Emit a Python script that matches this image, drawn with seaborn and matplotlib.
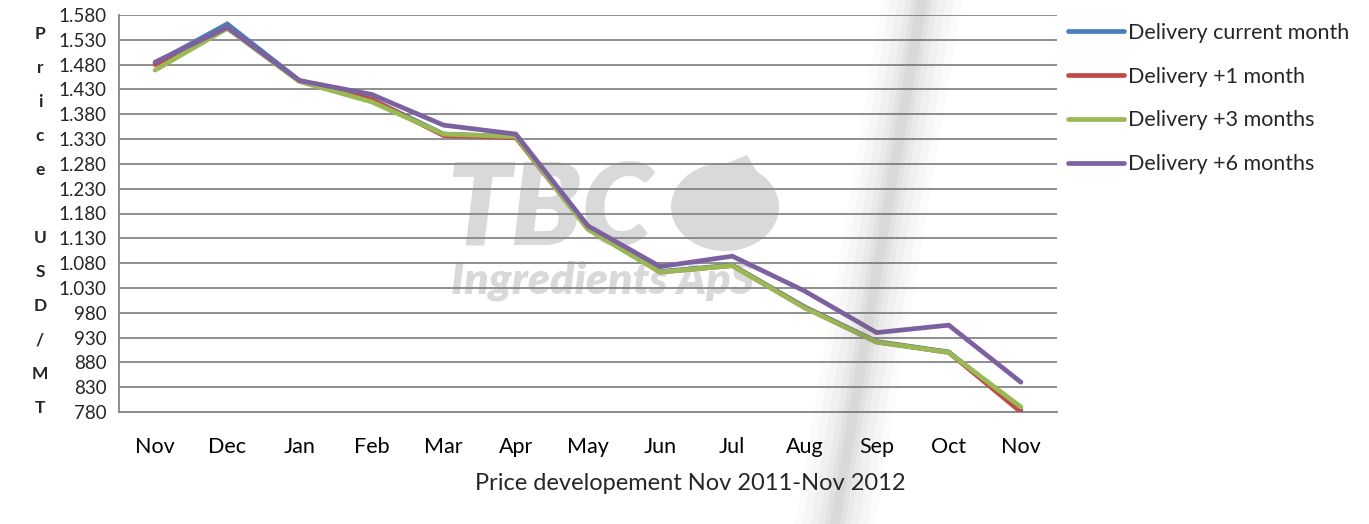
import matplotlib
matplotlib.use("Agg")
import matplotlib.pyplot as plt
import matplotlib.patches as mpatches
from matplotlib.ticker import FixedLocator, FuncFormatter
import seaborn as sns
import pandas as pd
import numpy as np

months = ["Nov", "Dec", "Jan", "Feb", "Mar", "Apr", "May", "Jun", "Jul", "Aug", "Sep", "Oct", "Nov"]
current_month = [1483, 1562, 1448, 1410, 1340, 1335, 1150, 1063, 1076, 992, 922, 901, 785]
plus_1_month = [1480, 1555, 1447, 1410, 1337, 1333, 1149, 1062, 1075, 991, 921, 900, 780]
plus_3_months = [1469, 1553, 1446, 1405, 1340, 1335, 1148, 1062, 1075, 990, 921, 900, 790]
plus_6_months = [1485, 1555, 1448, 1420, 1358, 1340, 1155, 1073, 1094, 1024, 940, 955, 840]
series_names = ["Delivery current month", "Delivery +1 month", "Delivery +3 months", "Delivery +6 months"]
y_ticks = list(range(780, 1581, 50))

sns.set_theme(style="white")
plt.rcParams["font.family"] = ["Lato", "DejaVu Sans"]

rows = []
for name, vals in zip(series_names, [current_month, plus_1_month, plus_3_months, plus_6_months]):
    for i, v in enumerate(vals):
        rows.append({"pos": i, "month": months[i], "price": v, "series": name})
df = pd.DataFrame(rows)

palette = {
    "Delivery current month": "#4A7EBB",
    "Delivery +1 month": "#BE4B48",
    "Delivery +3 months": "#98B954",
    "Delivery +6 months": "#7D60A0",
}

fig = plt.figure(figsize=(13.69, 5.24), dpi=100)
ax = fig.add_axes([119 / 1369, 1 - 412 / 524, (1057 - 119) / 1369, (412 - 15) / 524])

# photo streak artifact (soft background band)
xs_top, xs_bot = 922 / 1369, 835 / 1369
for w, a in [(40, 0.025), (32, 0.03), (24, 0.04), (16, 0.05), (10, 0.06), (5, 0.07)]:
    dw = w / 1369
    poly = mpatches.Polygon([[xs_top - dw, 1], [xs_top + dw, 1], [xs_bot + dw, 0], [xs_bot - dw, 0]],
                            closed=True, transform=fig.transFigure, facecolor="#707070",
                            alpha=a, edgecolor="none", zorder=0)
    fig.patches.append(poly)

# watermark
wm = "#d9d9d9"
ax.text(0.459, 0.505, "TBC", transform=ax.transAxes, fontsize=82, fontstyle="italic",
        fontweight="heavy", color=wm, ha="center", va="center", zorder=0.5)
ax.text(0.515, 0.33, "Ingredients ApS", transform=ax.transAxes, fontsize=32, fontstyle="italic",
        fontweight="heavy", color=wm, ha="center", va="center", zorder=0.5)
ax.add_patch(mpatches.Ellipse(((725 - 119) / 938, (412 - 207) / 397), 108 / 938, 88 / 397,
                              transform=ax.transAxes, facecolor=wm, edgecolor="none", zorder=0.5))
ax.add_patch(mpatches.Polygon([[(690 - 119) / 938, (412 - 178) / 397],
                               [(768 - 119) / 938, (412 - 190) / 397],
                               [(747 - 119) / 938, (412 - 155) / 397]], closed=True,
                              transform=ax.transAxes, facecolor=wm, edgecolor="none", zorder=0.5))

sns.lineplot(data=df, x="pos", y="price", hue="series", hue_order=series_names,
             palette=palette, linewidth=3.4, ax=ax, legend=True, zorder=3)
for ln in ax.lines:
    ln.set_solid_capstyle("round")
    ln.set_solid_joinstyle("miter")

ax.set_xlim(-0.5, 12.5)
ax.set_ylim(780, 1580)
ax.set_yticks(y_ticks)
ax.yaxis.set_major_formatter(FuncFormatter(lambda v, p: f"{v:,.0f}".replace(",", ".")))
ax.set_xticks(range(len(months)))
ax.set_xticklabels(months)
ax.xaxis.set_minor_locator(FixedLocator(np.arange(-0.5, 12.6, 1)))
ax.tick_params(axis="x", which="major", length=0, labelsize=15.5, pad=18, colors="black")
ax.tick_params(axis="x", which="minor", length=6, width=1.3, color="#868686", direction="out")
ax.tick_params(axis="y", which="major", length=6, width=1.3, color="#868686", labelsize=13.5, pad=3)
ax.grid(axis="y", color="#868686", linewidth=1.3, zorder=1)
ax.set_axisbelow(True)
for s in ["top", "right"]:
    ax.spines[s].set_visible(False)
for s in ["left", "bottom"]:
    ax.spines[s].set_color("#868686")
    ax.spines[s].set_linewidth(1.3)
ax.set_xlabel("")
ax.set_ylabel("")

handles, labels = ax.get_legend_handles_labels()
ax.legend(handles, labels, loc="upper left", bbox_to_anchor=(1068 / 1369, 1 - 23 / 524),
          bbox_transform=fig.transFigure, frameon=False, fontsize=15.5, handlelength=2.6,
          handletextpad=0.2, labelspacing=1.1, borderaxespad=0, borderpad=0)

fig.text(40 / 1369, 1 - 221 / 524, "P\nr\ni\nc\ne\n\nU\nS\nD\n/\nM\nT", ha="center", va="center",
         fontsize=12.5, fontweight="bold", linespacing=2.39)
fig.text(690 / 1369, 1 - 483 / 524, "Price developement Nov 2011-Nov 2012", ha="center", va="center",
         fontsize=17)

fig.savefig("out.png", dpi=100)
